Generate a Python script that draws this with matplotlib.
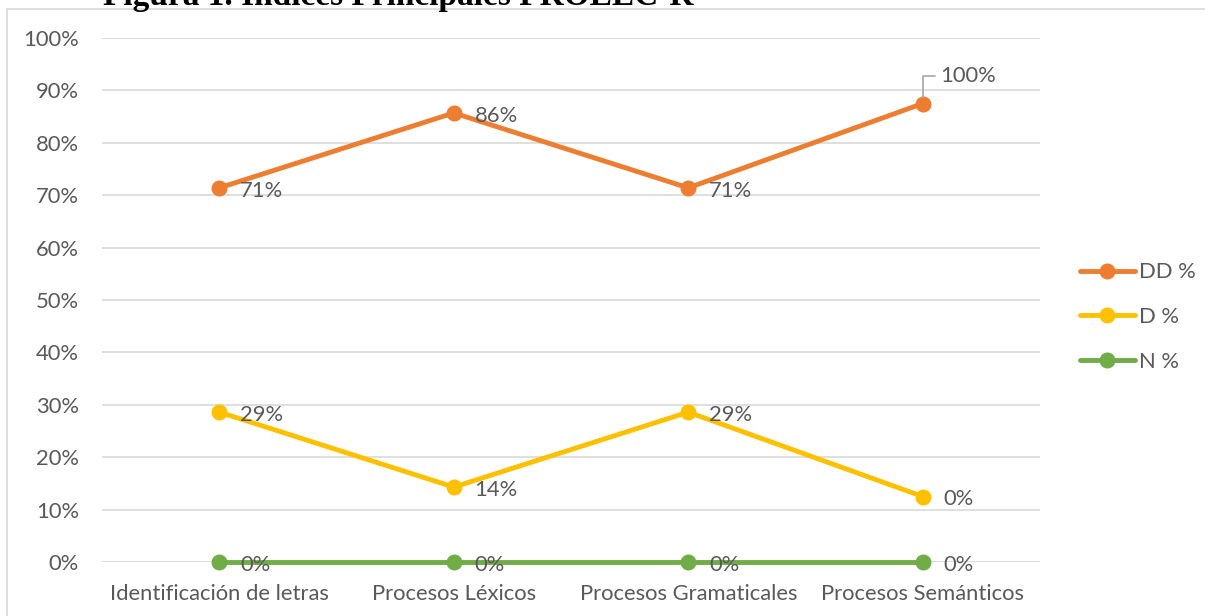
import matplotlib
matplotlib.use("Agg")
import matplotlib.pyplot as plt
from matplotlib.patches import Rectangle
from matplotlib.ticker import FuncFormatter

categories = ["Identificación de letras", "Procesos Léxicos", "Procesos Gramaticales", "Procesos Semánticos"]
series_names = ["DD %", "D %", "N %"]
dd_values = [71.4, 85.7, 71.4, 87.5]
d_values = [28.6, 14.3, 28.6, 12.5]
n_values = [0, 0, 0, 0]
dd_labels = ["71%", "86%", "71%", "100%"]
d_labels = ["29%", "14%", "29%", "0%"]
n_labels = ["0%", "0%", "0%", "0%"]
y_ticks = [0, 10, 20, 30, 40, 50, 60, 70, 80, 90, 100]
title = "Figura 1. Índices Principales PROLEC-R"

colors = ["#ED7D31", "#FFC000", "#70AD47"]
text_color = "#595959"
grid_color = "#D9D9D9"
font = ["Lato", "DejaVu Sans"]
fs = 15.8

W, H = 1205, 616
fig = plt.figure(figsize=(W / 100, H / 100), dpi=100)

# chart border
fig.patches.append(Rectangle((7 / W, -0.05), 1.1, 1 - 9 / H + 0.05, transform=fig.transFigure,
                             fill=False, edgecolor="#D9D9D9", linewidth=1.2))

ax_left, ax_right = 102, 1040
ax_top, ax_bottom = 38, 562
ax = fig.add_axes([ax_left / W, 1 - ax_bottom / H, (ax_right - ax_left) / W, (ax_bottom - ax_top) / H])
ax.set_xlim(-0.5, len(categories) - 0.5)
ax.set_ylim(0, 100)
for s in ax.spines.values():
    s.set_visible(False)
ax.set_yticks(y_ticks)
ax.yaxis.set_major_formatter(FuncFormatter(lambda v, p: f"{int(v)}%"))
ax.set_xticks(range(len(categories)))
ax.set_xticklabels(categories)
ax.tick_params(length=0, colors=text_color, labelsize=fs)
ax.tick_params(axis="y", pad=16.5)
ax.tick_params(axis="x", pad=15.5)
for lab in ax.get_xticklabels() + ax.get_yticklabels():
    lab.set_fontfamily(font)
ax.grid(axis="y", color=grid_color, linewidth=1.2)
ax.set_axisbelow(True)

x = list(range(len(categories)))
all_vals = [dd_values, d_values, n_values]
all_labels = [dd_labels, d_labels, n_labels]
lines = []
for vals, labs, c, name in zip(all_vals, all_labels, colors, series_names):
    ln, = ax.plot(x, vals, color=c, linewidth=3.5, marker="o", markersize=10.5,
                  solid_capstyle="round", label=name, zorder=3, clip_on=False)
    lines.append(ln)

for vals, labs in zip(all_vals, all_labels):
    for i, (v, l) in enumerate(zip(vals, labs)):
        if l == "100%" and abs(v - 100) > 1:
            # leader line label
            ax.annotate(l, xy=(i, v), xytext=(12.5, 20), textcoords="offset points",
                        ha="left", va="center", color=text_color, fontsize=fs, family=font,
                        arrowprops=dict(arrowstyle="-", color="#A6A6A6", lw=1.2,
                                        connectionstyle="angle,angleA=0,angleB=90,rad=0",
                                        shrinkA=2, shrinkB=5), zorder=4)
        else:
            ax.annotate(l, xy=(i, v), xytext=(15, -2), textcoords="offset points",
                        ha="left", va="center", color=text_color, fontsize=fs, family=font, zorder=4)

leg = fig.legend(handles=lines, loc="center left", bbox_to_anchor=(1080 / W, 1 - 317 / H),
                 frameon=False, labelspacing=1.12, handlelength=2.5, handletextpad=0.2,
                 borderpad=0, borderaxespad=0,
                 prop={"family": font, "size": fs})
for t in leg.get_texts():
    t.set_color(text_color)

fig.text(103 / W, 1 - 4.5 / H, title, ha="left", va="baseline", fontsize=24,
         fontweight="bold", family="Liberation Serif", color="black")

fig.savefig("out.png", dpi=100)
